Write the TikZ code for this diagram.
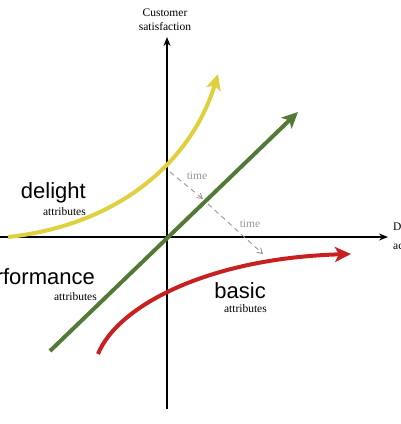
\documentclass[tikz,border=0pt]{standalone}
\usepackage{fontspec}
\setmainfont{Liberation Serif}
\newfontfamily\labelfont{Liberation Sans}
\usetikzlibrary{arrows.meta,positioning}
\definecolor{delightyellow}{RGB}{222,208,62}
\definecolor{perfgreen}{RGB}{82,122,52}
\definecolor{basicred}{RGB}{200,32,32}
\definecolor{timegray}{RGB}{150,150,150}

\tikzset{
  axis/.style={line width=1.4pt, -{Stealth[length=9pt,width=7pt]}},
  attrcurve/.style={line width=4pt, -{Stealth[length=16pt,width=15pt,inset=4pt]}},
  bigword/.style={font=\labelfont\fontsize{22}{24}\selectfont, inner sep=0pt},
  smallword/.style={font=\fontsize{11.5}{13}\selectfont, inner sep=0pt},
  timearrow/.style={timegray, line width=0.9pt, dash pattern=on 5pt off 4pt,
    -{Straight Barb[length=5pt,width=6pt]}},
}

\begin{document}
\begin{tikzpicture}[x=1pt,y=-1pt]

  % frame of the cropped picture
  \useasboundingbox (0,0) rectangle (400,424);
  \clip (0,0) rectangle (400,424);

  % ---- axes ----
  \coordinate (xstart) at (0,237);
  \coordinate (xend) at (388,237);
  \coordinate (ybottom) at (167,409);
  \coordinate (ytop) at (167,37);
  \draw[axis] (xstart) -- (xend);
  \draw[axis] (ybottom) -- (ytop);

  \node[smallword, align=center, font=\fontsize{11.5}{14}\selectfont]
    (ylabel) at (165,20) {Customer\\satisfaction};
  \node[smallword, anchor=west] (xlabel1) at (393,228) {Degree of};
  \node[smallword, anchor=west] (xlabel2) at (393,246) {achievement};

  % ---- attribute curves ----
  \coordinate (dstart) at (8,237);
  \coordinate (dend) at (218,74);
  \draw[attrcurve, delightyellow]
    (dstart) .. controls (120,225) and (192,160) .. (dend);

  \coordinate (pstart) at (50,351);
  \coordinate (pend) at (298,112);
  \draw[attrcurve, perfgreen] (pstart) -- (pend);

  \coordinate (bstart) at (98,354);
  \coordinate (bend) at (351,254);
  \draw[attrcurve, basicred]
    (bstart) .. controls (118,305) and (210,258) .. (bend);

  % ---- time shifts ----
  \coordinate (t1) at (170,172);
  \coordinate (t2) at (203,199);
  \coordinate (t3) at (208,204);
  \coordinate (t4) at (263,254);
  \draw[timearrow] (t1) -- (t2);
  \draw[timearrow] (t3) -- (t4);
  \node[smallword, timegray] (time1) at (197,176) {time};
  \node[smallword, timegray] (time2) at (250,224) {time};

  % ---- labels ----
  \node[bigword, anchor=east] (delight) at (86,193) {delight};
  \node[smallword, anchor=east] (delightattr) at (86,212) {attributes};

  \node[bigword, anchor=east] (performance) at (95,279) {performance};
  \node[smallword, anchor=east] (perfattr) at (97,297) {attributes};

  \node[bigword, anchor=east] (basic) at (266,291) {basic};
  \node[smallword, anchor=east] (basicattr) at (267,309) {attributes};

\end{tikzpicture}
\end{document}
